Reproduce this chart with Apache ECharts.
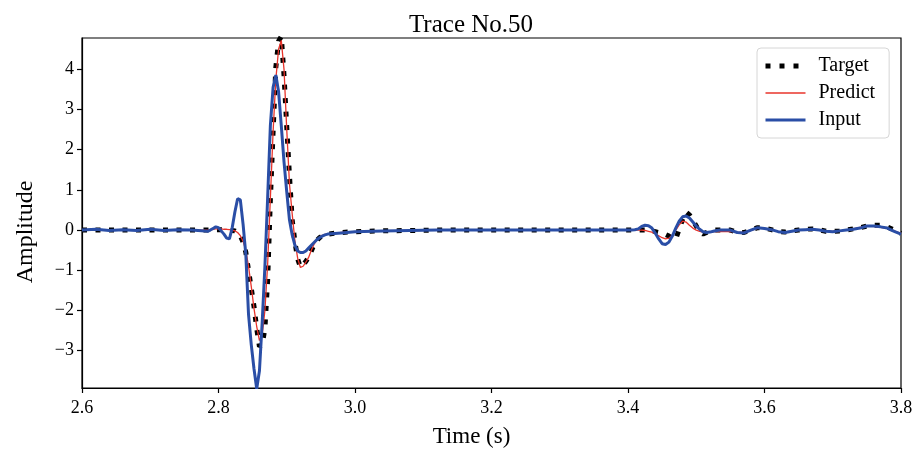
<!DOCTYPE html>
<html>
<head>
<meta charset="utf-8">
<script src="https://cdn.jsdelivr.net/npm/echarts@6/dist/echarts.min.js"></script>
<style>
html,body{margin:0;padding:0;background:#fff;}
#chart{width:913px;height:449px;}
</style>
</head>
<body>
<div id="chart"></div>
<script>
// ---- data ----
const times = [
  2.60, 2.62, 2.64, 2.66, 2.68, 2.70, 2.72, 2.74, 2.76,
  2.780, 2.784, 2.788, 2.792, 2.796, 2.800, 2.804, 2.808, 2.812, 2.816,
  2.820, 2.824, 2.828, 2.832, 2.836, 2.840, 2.844, 2.848, 2.852, 2.856,
  2.860, 2.864, 2.868, 2.872, 2.876, 2.880, 2.884, 2.888, 2.892, 2.896,
  2.900, 2.904, 2.908, 2.912, 2.916, 2.920, 2.924, 2.928, 2.932, 2.936,
  2.940, 2.944, 2.948, 2.952, 2.956, 2.960,
  2.98, 3.00, 3.04, 3.08, 3.12, 3.16, 3.20, 3.24, 3.28, 3.32, 3.36,
  3.400, 3.405, 3.410, 3.415, 3.420, 3.425, 3.430, 3.435, 3.440, 3.445,
  3.450, 3.455, 3.460, 3.465, 3.470, 3.475, 3.480, 3.485, 3.490, 3.495,
  3.500, 3.505, 3.510, 3.515, 3.520, 3.525, 3.530, 3.535, 3.540,
  3.55, 3.56, 3.57, 3.58, 3.59, 3.60, 3.61, 3.62, 3.63, 3.64, 3.65, 3.66, 3.67,
  3.68, 3.69, 3.70, 3.71, 3.72, 3.73, 3.74, 3.75, 3.76, 3.77, 3.78, 3.79, 3.80
];

const targetAmp = [
  0, 0, 0, 0, 0, 0, 0, 0, 0,
  0.00, 0.00, 0.00, 0.01, 0.01, 0.01, 0.01, 0.01, 0.00, 0.00,
  -0.01, -0.02, -0.06, -0.14, -0.30, -0.55, -1.00, -1.45, -1.90, -2.45,
  -2.90, -2.85, -2.45, -1.25, 0.75, 2.45, 4.05, 4.70, 4.82, 3.85,
  2.57, 1.35, 0.25, -0.30, -0.72, -0.92, -0.85, -0.78, -0.68, -0.52,
  -0.36, -0.26, -0.19, -0.15, -0.12, -0.10,
  -0.06, -0.04, -0.02, -0.01, 0, 0, 0, 0, 0, 0, 0,
  0, 0, 0, 0, 0, 0, -0.01, -0.02, -0.04, -0.06,
  -0.08, -0.11, -0.15, -0.20, -0.22, 0.02, 0.27, 0.45, 0.38, 0.25,
  0.10, -0.05, -0.10, -0.06, -0.02, 0, 0, 0, 0,
  0.00, -0.05, -0.06, 0.00, 0.06, 0.05, 0.01, -0.04, -0.05, -0.02, 0.00, 0.02, 0.03,
  0.01, -0.03, -0.03, -0.02, 0.00, 0.03, 0.06, 0.10, 0.12, 0.12, 0.08, 0.00, -0.08
];

const predictAmp = [
  0, 0, 0, 0, 0, 0, 0, 0, 0,
  0.00, 0.00, 0.01, 0.02, 0.03, 0.03, 0.03, 0.02, 0.02, 0.01,
  0.00, -0.02, -0.06, -0.14, -0.28, -0.50, -0.90, -1.40, -1.95, -2.40,
  -2.75, -2.60, -2.00, -0.85, 0.80, 2.45, 3.75, 4.50, 4.72, 4.00,
  2.50, 1.15, 0.40, -0.28, -0.70, -0.93, -0.90, -0.80, -0.68, -0.50,
  -0.35, -0.25, -0.18, -0.13, -0.11, -0.10,
  -0.06, -0.04, -0.02, -0.01, 0, 0, 0, 0, 0, 0, 0,
  0.00, 0.00, 0.00, 0.00, 0.00, -0.01, -0.03, -0.05, -0.09, -0.14,
  -0.19, -0.22, -0.20, -0.12, 0.00, 0.13, 0.22, 0.20, 0.12, 0.05,
  0.00, -0.03, -0.05, -0.05, -0.05, -0.04, -0.04, -0.04, -0.04,
  -0.03, -0.05, -0.06, -0.01, 0.04, 0.04, 0.01, -0.03, -0.05, -0.03, 0.00, 0.01, 0.02,
  0.00, -0.03, -0.03, -0.02, 0.00, 0.03, 0.07, 0.10, 0.09, 0.07, 0.04, -0.02, -0.08
];

const inputAmp = [
  0.00, 0.02, -0.01, 0.01, -0.01, 0.02, -0.01, 0.01, 0.00,
  -0.02, -0.03, 0.00, 0.04, 0.08, 0.06, -0.02, -0.10, -0.20, -0.22,
  0.05, 0.45, 0.78, 0.75, 0.15, -0.60, -2.10, -2.85, -3.45, -3.95,
  -3.50, -2.30, -0.90, 0.80, 2.60, 3.55, 3.86, 3.45, 2.60, 1.70,
  0.95, 0.25, -0.12, -0.38, -0.52, -0.56, -0.56, -0.52, -0.45, -0.38,
  -0.31, -0.24, -0.19, -0.15, -0.12, -0.10,
  -0.07, -0.04, -0.02, -0.01, 0, 0, 0, 0, 0, 0, 0,
  0.00, 0.00, 0.01, 0.03, 0.09, 0.12, 0.11, 0.05, -0.08, -0.22,
  -0.34, -0.36, -0.30, -0.15, 0.05, 0.22, 0.33, 0.35, 0.30, 0.20,
  0.10, 0.02, -0.04, -0.06, -0.05, -0.03, -0.01, 0.00, 0.00,
  0.00, -0.06, -0.07, 0.00, 0.06, 0.04, 0.01, -0.04, -0.06, -0.03, 0.00, 0.01, 0.02,
  0.00, -0.03, -0.04, -0.02, 0.00, 0.02, 0.05, 0.10, 0.10, 0.08, 0.05, -0.03, -0.10
];

const seriesNames = ['Target', 'Predict', 'Input'];
const chartTitle = 'Trace No.50';
const xAxisTitle = 'Time (s)';
const yAxisTitle = 'Amplitude';
const xRange = [2.6, 3.8];
const yRange = [-3.93, 4.78];

// ---- drawing ----
const FONT = '"Liberation Serif", "DejaVu Serif", serif';
const pairs = arr => times.map((t, i) => [t, arr[i]]);
const minusFmt = v => {
  const r = Math.round(v);
  if (Math.abs(v - r) > 1e-6) return '';
  return r < 0 ? '\u2212' + Math.abs(r) : String(r);
};
const hiddenSymbol = {opacity: 0, borderWidth: 0};

const chart = echarts.init(document.getElementById('chart'), null, {renderer: 'canvas'});
chart.setOption({
  animation: false,
  backgroundColor: '#ffffff',
  title: {
    text: chartTitle, left: 471, top: 13, textAlign: 'center', padding: 0,
    textStyle: {fontFamily: FONT, fontSize: 25, fontWeight: 'normal', color: '#000'}
  },
  legend: {
    orient: 'vertical', left: 757, top: 48,
    padding: [8, 14, 8, 6], itemGap: 7, itemWidth: 40, itemHeight: 20,
    backgroundColor: '#ffffff', borderColor: '#d6d6d6', borderWidth: 1, borderRadius: 4,
    itemStyle: hiddenSymbol,
    textStyle: {fontFamily: FONT, fontSize: 20, color: '#000', lineHeight: 20, padding: [0, 0, 0, 8]},
    data: [
      {name: seriesNames[0], itemStyle: hiddenSymbol, lineStyle: {width: 5, type: [5, 9], color: '#000', cap: 'butt'}},
      {name: seriesNames[1], itemStyle: hiddenSymbol, lineStyle: {width: 1.5, color: '#e8342b'}},
      {name: seriesNames[2], itemStyle: hiddenSymbol, lineStyle: {width: 3, color: '#2a4ea6'}}
    ]
  },
  grid: {
    left: 82, right: 12, top: 38, bottom: 61,
    show: true, borderColor: '#000', borderWidth: 1.2, containLabel: false, outerBoundsMode: 'none'
  },
  xAxis: {
    type: 'value', min: xRange[0], max: xRange[1], interval: 0.2,
    name: xAxisTitle, nameLocation: 'middle', nameGap: 37,
    nameTextStyle: {fontFamily: FONT, fontSize: 23, color: '#000', padding: [0, 40, 0, 0]},
    axisLine: {show: true, onZero: false, lineStyle: {color: '#000', width: 1.2}},
    axisTick: {show: true, inside: false, length: 5, lineStyle: {color: '#000', width: 1.2}},
    axisLabel: {fontFamily: FONT, fontSize: 18, color: '#000', margin: 11, formatter: v => v.toFixed(1)},
    splitLine: {show: false}
  },
  yAxis: {
    type: 'value', min: yRange[0], max: yRange[1], splitNumber: 8, minInterval: 1, maxInterval: 1,
    name: yAxisTitle, nameLocation: 'middle', nameGap: 44,
    nameTextStyle: {fontFamily: FONT, fontSize: 24, color: '#000', padding: [0, 38, 0, 0]},
    axisLine: {show: true, onZero: false, lineStyle: {color: '#000', width: 1.2}},
    axisTick: {show: true, inside: false, length: 5, lineStyle: {color: '#000', width: 1.2}},
    axisLabel: {fontFamily: FONT, fontSize: 18, color: '#000', margin: 8,
      showMinLabel: false, showMaxLabel: false, formatter: minusFmt},
    splitLine: {show: false}
  },
  series: [
    {
      name: seriesNames[0], type: 'line', data: pairs(targetAmp), symbol: 'none', showSymbol: false,
      lineStyle: {color: '#000', width: 5, type: [5, 8.5], cap: 'butt'}, itemStyle: {color: '#000'},
      emphasis: {disabled: true}, silent: true
    },
    {
      name: seriesNames[1], type: 'line', data: pairs(predictAmp), symbol: 'none', showSymbol: false,
      lineStyle: {color: '#e8342b', width: 1.3}, itemStyle: {color: '#e8342b'},
      emphasis: {disabled: true}, silent: true
    },
    {
      name: seriesNames[2], type: 'line', data: pairs(inputAmp), symbol: 'none', showSymbol: false,
      lineStyle: {color: '#2a4ea6', width: 3}, itemStyle: {color: '#2a4ea6'},
      emphasis: {disabled: true}, silent: true
    }
  ]
});
</script>
</body>
</html>
